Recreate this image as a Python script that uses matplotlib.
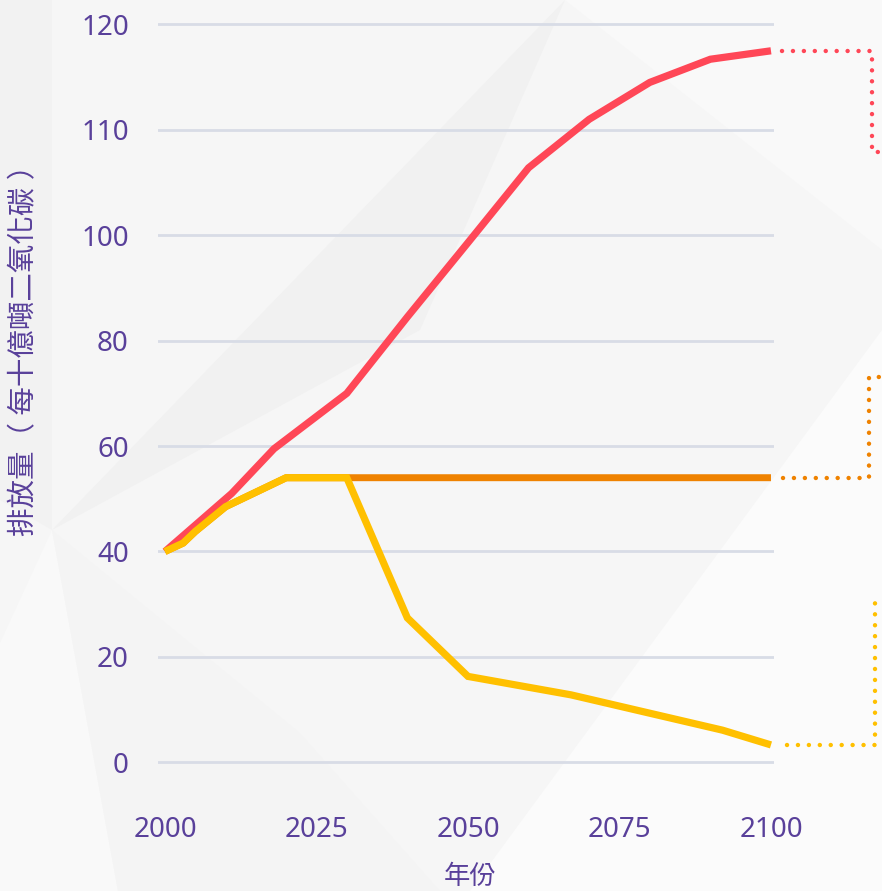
import numpy as np
import matplotlib
matplotlib.use("Agg")
import matplotlib.pyplot as plt
from matplotlib.patches import Polygon
from matplotlib.transforms import IdentityTransform

plt.rcParams['font.family'] = ['Noto Sans', 'Noto Sans CJK TC', 'DejaVu Sans']

# ---------------- data ----------------
years_high = [2000, 2011, 2018, 2030, 2040, 2050, 2060, 2070, 2080, 2090, 2100]
emis_high = [40, 51, 59.5, 70, 84.5, 98.6, 106.4, 111, 114.5, 116.7, 117.5]

years_flat = [2000, 2003, 2005, 2010, 2020, 2100]
emis_flat = [40, 41.6, 43.8, 48.5, 54, 54]

years_low = [2000, 2003, 2005, 2010, 2020, 2030, 2040, 2050, 2067, 2092, 2100]
emis_low = [40, 41.6, 43.8, 48.5, 54, 54, 27.4, 16.3, 12.8, 6.1, 3.3]

x_ticks = [2000, 2025, 2050, 2075, 2100]
y_ticks = [0, 20, 40, 60, 80, 100, 110, 120]

y_label = "排放量（ 每十億噸二氧化碳 ）"
x_label = "年份"

# ---------------- style ----------------
W, H = 882, 891
DPI = 100
TEXT = "#59409a"
GRID = "#d8dce6"
C_HIGH = "#ff4757"
C_FLAT = "#ef8200"
C_LOW = "#ffc000"

fig = plt.figure(figsize=(W / DPI, H / DPI), dpi=DPI)
fig.patch.set_facecolor("#f6f6f6")


def px(pts):
    return [(x / W, 1 - y / H) for x, y in pts]


bg_polys = [
    ([(565, 0), (882, 0), (882, 250)], "#f9f9f9"),
    ([(565, 0), (52, 530), (420, 330)], "#f1f1f1"),
    ([(0, 0), (52, 0), (52, 530), (0, 500)], "#f2f2f2"),
    ([(882, 330), (882, 891), (470, 891)], "#fbfbfb"),
    ([(52, 530), (0, 643), (0, 891), (118, 891)], "#f9f9f9"),
    ([(52, 530), (118, 891), (440, 891), (300, 733)], "#f4f4f4"),
]
for pts, col in bg_polys:
    fig.add_artist(Polygon(px(pts), closed=True, transform=fig.transFigure,
                           facecolor=col, edgecolor="none", zorder=-10))

# piecewise-linear y axis (ticks evenly spaced although values are not)
tick_idx = [-1, 0, 1, 2, 3, 4, 5, 6, 7, 8]
tick_val = [-20, 0, 20, 40, 60, 80, 100, 110, 120, 130]


def fwd(v):
    return np.interp(v, tick_val, tick_idx)


def inv(i):
    return np.interp(i, tick_idx, tick_val)


ax = fig.add_axes([158 / W, (H - 771.8) / H, 616 / W, 757.9 / H])
ax.set_facecolor("none")
ax.set_yscale("function", functions=(fwd, inv))
ax.set_ylim(inv(-0.09), inv(7.1))
ax.set_xlim(1998.85, 2100.5)

for s in ax.spines.values():
    s.set_visible(False)

ax.set_yticks(y_ticks)
ax.set_yticklabels([str(v) for v in y_ticks])
ax.set_xticks(x_ticks)
ax.set_xticklabels([str(v) for v in x_ticks])
ax.yaxis.set_minor_locator(matplotlib.ticker.NullLocator())
ax.tick_params(axis="y", length=0, pad=21, labelsize=20, labelcolor=TEXT)
ax.tick_params(axis="x", length=0, pad=32, labelsize=20, labelcolor=TEXT)
ax.grid(axis="y", color=GRID, linewidth=2.0)
ax.grid(axis="x", visible=False)
ax.set_axisbelow(True)

ax.plot(years_high, emis_high, color=C_HIGH, lw=5.2, solid_capstyle="butt",
        solid_joinstyle="miter", zorder=3)
ax.plot(years_flat, emis_flat, color=C_FLAT, lw=5.0, solid_capstyle="butt", zorder=4)
ax.plot(years_low, emis_low, color=C_LOW, lw=5.2, solid_capstyle="butt",
        solid_joinstyle="miter", zorder=5)

fig.text(25 / W, 1 - 343 / H, y_label, rotation=90, ha="center", va="center",
         fontsize=20.5, color=TEXT)
fig.text(470 / W, 1 - 877 / H, x_label, ha="center", va="center",
         fontsize=19, color=TEXT)

# dotted connector brackets (leading to labels outside the frame)
fig.canvas.draw()
series_end = [(years_high[-1], emis_high[-1], C_HIGH, 11, 872, 152),
              (years_flat[-1], emis_flat[-1], C_FLAT, 12, 869, 377),
              (years_low[-1], emis_low[-1], C_LOW, 16, 875, 603)]
for xe, ye, col, gap, xv, ytop in series_end:
    dx, dy = ax.transData.transform((xe, ye))
    x0 = dx + gap
    xc = xv
    yt = H - ytop
    xs = [x0, xc, xc, W + 10]
    ys = [dy, dy, yt, yt]
    ln = plt.Line2D(xs, ys, transform=IdentityTransform(), color=col, lw=3.2,
                    linestyle=(0, (0.01, 2.45)), dash_capstyle="round")
    fig.add_artist(ln)

fig.savefig("out.png", dpi=DPI, facecolor=fig.get_facecolor())
